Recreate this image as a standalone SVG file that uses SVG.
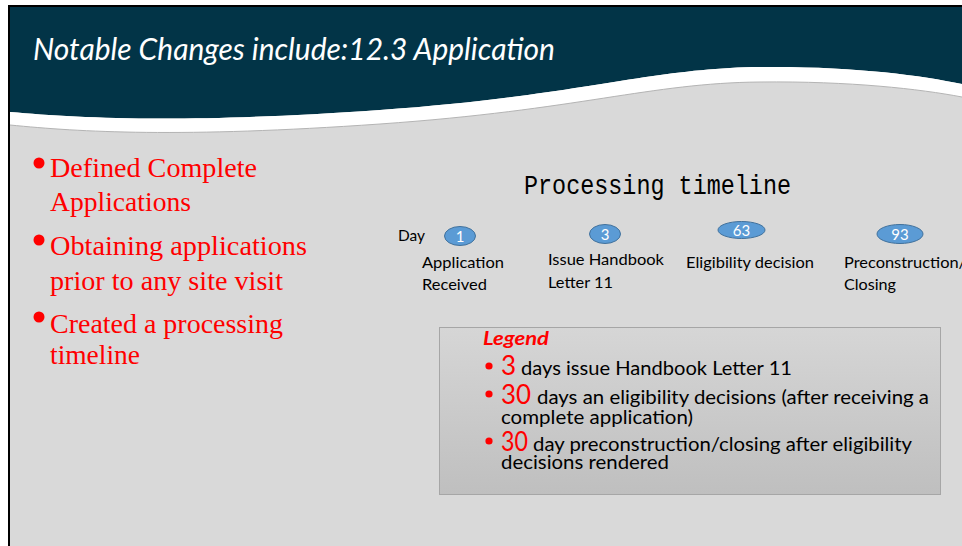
<svg xmlns="http://www.w3.org/2000/svg" width="962" height="546" viewBox="0 0 962 546">
<defs>
<style>
.title{font-family:Lato,"Liberation Sans",sans-serif;font-style:italic;font-size:30px;fill:#ffffff}
.bul{font-family:"Liberation Serif","DejaVu Serif",serif;font-size:28px;fill:#ff0000}
.head{font-family:"Liberation Mono","DejaVu Sans Mono",monospace;font-size:27px;fill:#000}
.lbl{font-family:Lato,"Liberation Sans",sans-serif;font-size:16px;fill:#000}
.num{font-family:Lato,"Liberation Sans",sans-serif;font-size:15px;fill:#fff;text-anchor:middle}
.ell{fill:#5b9bd5;stroke:#41719c;stroke-width:1}
.lg{font-family:Lato,"Liberation Sans",sans-serif;font-size:18.5px;fill:#000}
.lgr{font-family:Lato,"Liberation Sans",sans-serif;font-size:26px;fill:#ff0000}
</style>
<linearGradient id="lgBox" x1="0" y1="0" x2="0" y2="1">
<stop offset="0" stop-color="#d6d6d6"/>
<stop offset="1" stop-color="#bfbfbf"/>
</linearGradient>
</defs>
<rect x="0" y="0" width="962" height="546" fill="#ffffff"/>
<rect x="8" y="5" width="954" height="541" fill="#000000"/>
<rect x="10" y="7" width="952" height="539" fill="#d9d9d9"/>
<g id="header">
<path d="M10,7 H962 V84 C920,75 850,66 760,67 C650,68 580,96 380,110 C180,124 80,118 10,112 Z" fill="#023447"/>
<path d="M10,112 C80,118 180,124 380,110 C580,96 650,68 760,67 C850,66 920,75 962,84 V97 C920,89 850,81 760,82 C650,83 580,110 380,124 C180,138 80,132 10,125 Z" fill="#ffffff"/>
<path d="M10,125 C80,132 180,138 380,124 C580,110 650,83 760,82 C850,81 920,89 962,97" fill="none" stroke="#b4b4b4" stroke-width="1"/>
<text class="title" x="33" y="60" textLength="522" lengthAdjust="spacingAndGlyphs">Notable Changes include:12.3 Application</text>
</g>
<g id="bullets">
<circle cx="39" cy="163" r="5.5" fill="#ff0000"/>
<text class="bul" x="50" y="177" textLength="207" lengthAdjust="spacingAndGlyphs">Defined Complete</text>
<text class="bul" x="50" y="211" textLength="141" lengthAdjust="spacingAndGlyphs">Applications</text>
<circle cx="39" cy="240" r="5.5" fill="#ff0000"/>
<text class="bul" x="50" y="255" textLength="257" lengthAdjust="spacingAndGlyphs">Obtaining applications</text>
<text class="bul" x="50" y="290" textLength="233" lengthAdjust="spacingAndGlyphs">prior to any site visit</text>
<circle cx="39" cy="317" r="5.5" fill="#ff0000"/>
<text class="bul" x="50" y="333" textLength="233" lengthAdjust="spacingAndGlyphs">Created a processing</text>
<text class="bul" x="50" y="364" textLength="90" lengthAdjust="spacingAndGlyphs">timeline</text>
</g>
<g id="timeline-title">
<text class="head" x="524" y="194" textLength="267" lengthAdjust="spacingAndGlyphs">Processing timeline</text>
<text class="lbl" x="398" y="241" textLength="27" lengthAdjust="spacingAndGlyphs">Day</text>
</g>
<g id="node-day1">
<ellipse class="ell" cx="460" cy="236" rx="15.5" ry="9.5"/>
<text class="num" x="460" y="241.5">1</text>
<text class="lbl" x="422" y="268" textLength="82" lengthAdjust="spacingAndGlyphs">Application</text>
<text class="lbl" x="422" y="290" textLength="65" lengthAdjust="spacingAndGlyphs">Received</text>
</g>
<g id="node-day3">
<ellipse class="ell" cx="605" cy="234" rx="15.5" ry="9.5"/>
<text class="num" x="605" y="239.5">3</text>
<text class="lbl" x="548" y="265" textLength="116" lengthAdjust="spacingAndGlyphs">Issue Handbook</text>
<text class="lbl" x="548" y="288" textLength="65" lengthAdjust="spacingAndGlyphs">Letter 11</text>
</g>
<g id="node-day63">
<ellipse class="ell" cx="741.5" cy="230" rx="23.5" ry="8.5"/>
<text class="num" x="741.5" y="235.5">63</text>
<text class="lbl" x="686" y="268" textLength="128" lengthAdjust="spacingAndGlyphs">Eligibility decision</text>
</g>
<g id="node-day93">
<ellipse class="ell" cx="900" cy="234" rx="23" ry="9.5"/>
<text class="num" x="900" y="239.5">93</text>
<text class="lbl" x="844" y="268" textLength="122" lengthAdjust="spacingAndGlyphs">Preconstruction/</text>
<text class="lbl" x="844" y="290" textLength="52" lengthAdjust="spacingAndGlyphs">Closing</text>
</g>
<g id="connectors"/>
<g id="legend">
<rect x="439.5" y="327.5" width="501" height="167" fill="url(#lgBox)" stroke="#a6a6a6" stroke-width="1"/>
<text x="483" y="345" font-family="Lato,'Liberation Sans',sans-serif" font-size="19" font-weight="bold" font-style="italic" fill="#ff0000" textLength="66" lengthAdjust="spacingAndGlyphs">Legend</text>
<circle cx="489" cy="366" r="3.6" fill="#ff0000"/>
<text class="lgr" x="501" y="375">3</text>
<text class="lg" x="521" y="375" textLength="271" lengthAdjust="spacingAndGlyphs">days issue Handbook Letter 11</text>
<circle cx="489" cy="394" r="3.6" fill="#ff0000"/>
<text class="lgr" x="501" y="404" textLength="30" lengthAdjust="spacingAndGlyphs">30</text>
<text class="lg" x="537" y="404" textLength="392" lengthAdjust="spacingAndGlyphs">days an eligibility decisions (after receiving a</text>
<text class="lg" x="501" y="424" textLength="192" lengthAdjust="spacingAndGlyphs">complete application)</text>
<circle cx="489" cy="441" r="3.6" fill="#ff0000"/>
<text class="lgr" x="501" y="451" textLength="27" lengthAdjust="spacingAndGlyphs">30</text>
<text class="lg" x="533" y="451" textLength="379" lengthAdjust="spacingAndGlyphs">day preconstruction/closing after eligibility</text>
<text class="lg" x="501" y="469" textLength="168" lengthAdjust="spacingAndGlyphs">decisions rendered</text>
</g>
</svg>
